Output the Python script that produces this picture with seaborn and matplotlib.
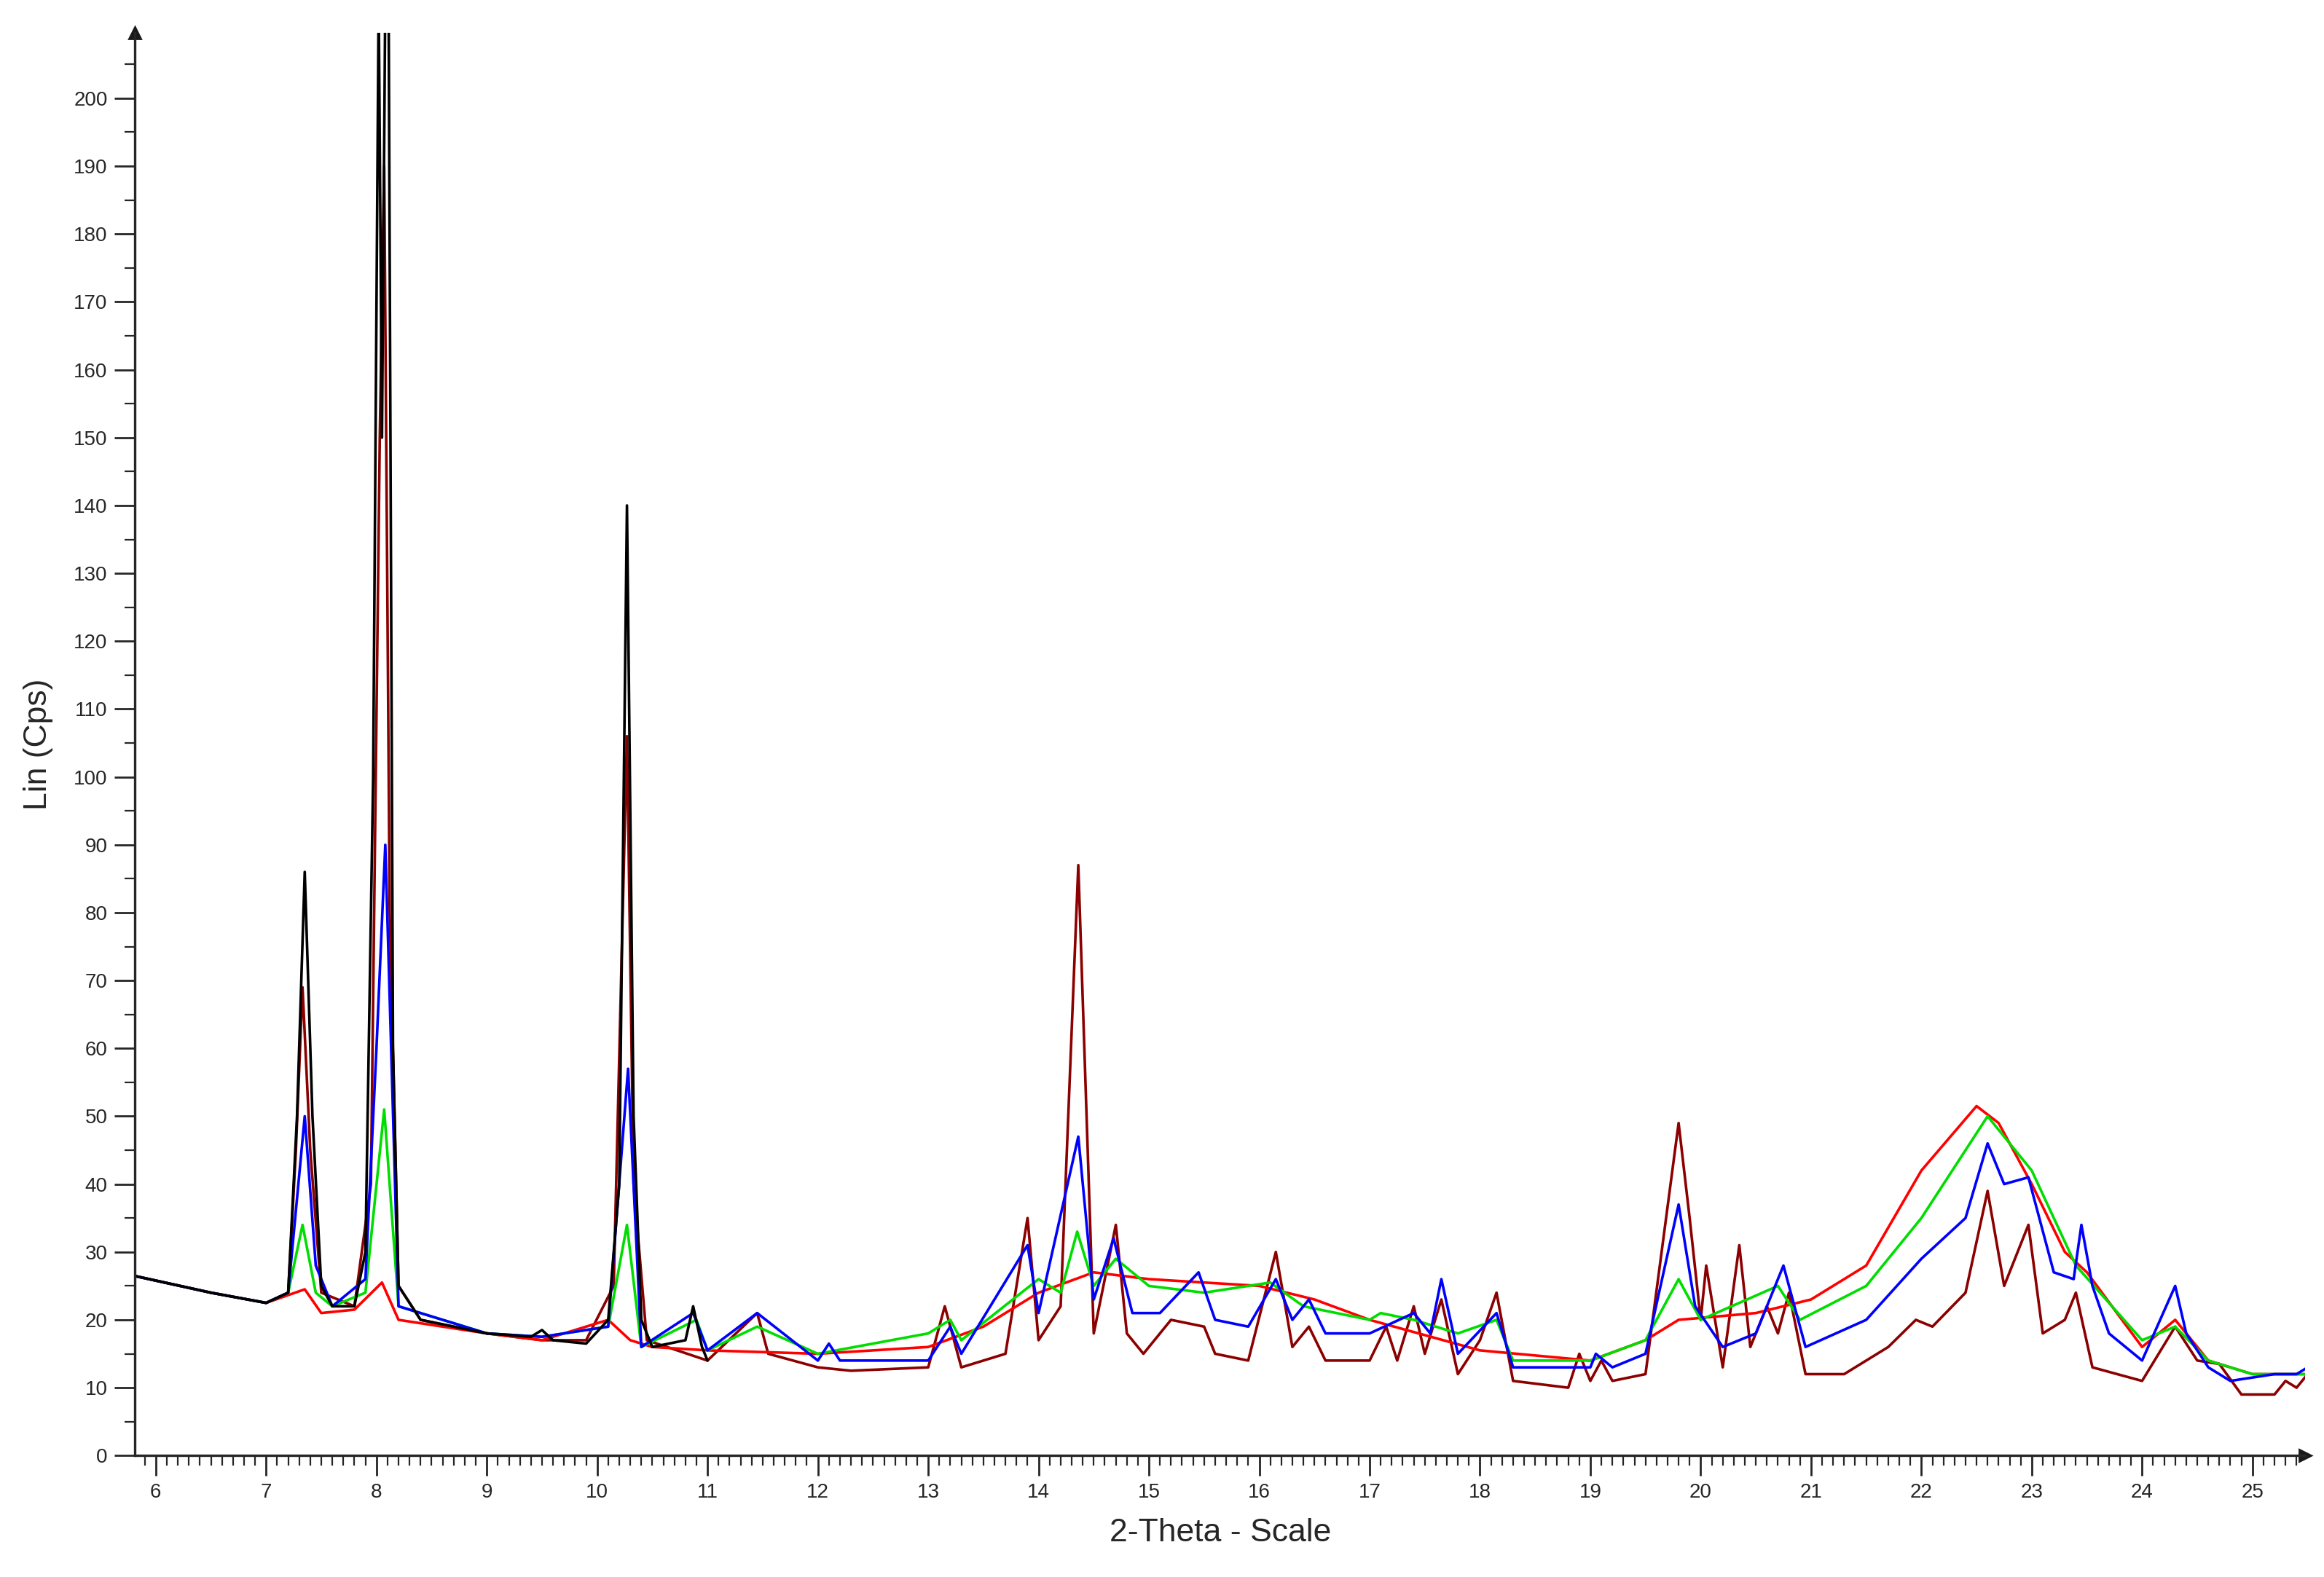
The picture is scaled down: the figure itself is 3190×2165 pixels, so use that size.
import matplotlib
matplotlib.use("Agg")
import matplotlib.pyplot as plt
import numpy as np
import pandas as pd
import seaborn as sns

# 2-theta / intensity vertices
black_x = [5.8, 6.5, 7.0, 7.2, 7.28, 7.35, 7.42, 7.5, 7.6, 7.8, 7.9, 7.97, 8.02, 8.05, 8.08, 8.11, 8.15, 8.2, 8.4, 9.0, 9.4, 9.5, 9.6, 9.9, 10.1, 10.2, 10.27, 10.33, 10.4, 10.5, 10.8, 10.87, 10.95, 11.0]
black_y = [26.5, 24, 22.5, 24, 50, 86, 50, 25, 22, 22, 30, 100, 215, 150, 215, 215, 60, 25, 20, 18, 17.5, 18.5, 17, 16.5, 20, 40, 140, 50, 20, 16, 17, 22, 16, 14]

darkred_x = [5.8, 6.5, 7.0, 7.2, 7.27, 7.33, 7.4, 7.5, 7.8, 7.95, 8.03, 8.07, 8.12, 8.2, 8.4, 9.0, 9.5, 9.9, 10.15, 10.27, 10.33, 10.45, 11.0, 11.45, 11.55, 12.0, 12.3, 13.0, 13.15, 13.3, 13.7, 13.9, 14.0, 14.2, 14.36, 14.5, 14.7, 14.8, 14.95, 15.2, 15.5, 15.6, 15.9, 16.15, 16.3, 16.45, 16.6, 17.0, 17.15, 17.25, 17.4, 17.5, 17.65, 17.8, 18.0, 18.15, 18.3, 18.8, 18.9, 19.0, 19.1, 19.2, 19.5, 19.8, 19.9, 20.0, 20.05, 20.2, 20.35, 20.45, 20.6, 20.7, 20.8, 20.95, 21.3, 21.7, 21.95, 22.1, 22.4, 22.6, 22.75, 22.97, 23.1, 23.3, 23.4, 23.55, 24.0, 24.3, 24.5, 24.7, 24.9, 25.2, 25.3, 25.4, 25.5]
darkred_y = [26.5, 24, 22.5, 24, 45, 69, 45, 24, 22, 40, 150, 190, 80, 25, 20, 18, 17, 17, 25, 106, 40, 17, 14, 21, 15, 13, 12.5, 13, 22, 13, 15, 35, 17, 22, 87, 18, 34, 18, 15, 20, 19, 15, 14, 30, 16, 19, 14, 14, 19, 14, 22, 15, 23, 12, 17, 24, 11, 10, 15, 11, 14, 11, 12, 49, 35, 20, 28, 13, 31, 16, 22, 18, 24, 12, 12, 16, 20, 19, 24, 39, 25, 34, 18, 20, 24, 13, 11, 19, 14, 13.5, 9, 9, 11, 10, 12]

red_x = [5.8, 6.5, 7.0, 7.35, 7.5, 7.8, 8.05, 8.2, 9.0, 9.5, 10.1, 10.3, 10.5, 11.0, 12.0, 13.0, 13.5, 14.0, 14.5, 15.0, 16.0, 16.5, 17.0, 18.0, 19.0, 19.5, 19.8, 20.5, 21.0, 21.5, 22.0, 22.5, 22.7, 23.0, 23.3, 23.5, 24.0, 24.3, 24.6, 25.0, 25.5]
red_y = [26.5, 24, 22.5, 24.5, 21, 21.5, 25.5, 20, 18, 17, 20, 17, 16, 15.5, 15, 16, 19, 24, 27, 26, 25, 23, 20, 15.5, 14, 17, 20, 21, 23, 28, 42, 51.5, 49, 40, 30, 27, 16, 20, 14, 12, 12]

green_x = [5.8, 6.5, 7.0, 7.2, 7.33, 7.45, 7.6, 7.9, 8.07, 8.2, 9.0, 9.5, 10.1, 10.27, 10.4, 10.9, 11.0, 11.45, 12.0, 13.0, 13.2, 13.3, 14.0, 14.2, 14.35, 14.5, 14.7, 15.0, 15.5, 16.1, 16.4, 17.0, 17.1, 17.4, 17.8, 18.15, 18.3, 19.0, 19.5, 19.8, 20.0, 20.7, 20.9, 21.5, 22.0, 22.6, 23.0, 23.4, 24.0, 24.3, 24.6, 25.0, 25.5]
green_y = [26.5, 24, 22.5, 24, 34, 24, 22, 24, 51, 22, 18, 17.5, 19, 34, 16, 20, 15.5, 19, 15, 18, 20, 17, 26, 24, 33, 25, 29, 25, 24, 25.5, 22, 20, 21, 20, 18, 20, 14, 14, 17, 26, 20, 25, 20, 25, 35, 50, 42, 28, 17, 19, 14, 12, 12]

blue_x = [5.8, 6.5, 7.0, 7.2, 7.35, 7.45, 7.6, 7.9, 8.0, 8.08, 8.2, 9.0, 9.5, 10.1, 10.28, 10.4, 10.87, 11.0, 11.45, 12.0, 12.1, 12.2, 13.0, 13.2, 13.3, 13.9, 14.0, 14.36, 14.5, 14.68, 14.85, 15.1, 15.45, 15.6, 15.9, 16.15, 16.3, 16.45, 16.6, 17.0, 17.4, 17.55, 17.65, 17.8, 18.15, 18.3, 19.0, 19.05, 19.2, 19.5, 19.8, 19.95, 20.2, 20.5, 20.75, 20.95, 21.5, 22.0, 22.4, 22.6, 22.75, 22.97, 23.2, 23.38, 23.45, 23.55, 23.7, 24.0, 24.3, 24.4, 24.6, 24.8, 25.2, 25.4, 25.5]
blue_y = [26.5, 24, 22.5, 24, 50, 28, 22, 26, 60, 90, 22, 18, 17.5, 19, 57, 16, 21, 15.5, 21, 14, 16.5, 14, 14, 19, 15, 31, 21, 47, 23, 32, 21, 21, 27, 20, 19, 26, 20, 23, 18, 18, 21, 18, 26, 15, 21, 13, 13, 15, 13, 15, 37, 22, 16, 18, 28, 16, 20, 29, 35, 46, 40, 41, 27, 26, 34, 25, 18, 14, 25, 18, 13, 11, 12, 12, 13]

series = [("darkred", darkred_x, darkred_y), ("#ff0000", red_x, red_y),
          ("#00dd00", green_x, green_y), ("#0000ff", blue_x, blue_y),
          ("black", black_x, black_y)]

sns.set_theme(style="ticks")
plt.rcParams['font.family'] = ['Arial', 'Liberation Sans', 'DejaVu Sans']

fig = plt.figure(figsize=(15.95, 10.825), dpi=200)
ax = fig.add_axes([0.058, 0.077, 0.934, 0.902])

for color, xs, ys in series:
    df = pd.DataFrame({"x": xs, "y": ys})
    sns.lineplot(data=df, x="x", y="y", color=color, lw=1.3, ax=ax, sort=False)

ax.set_xlim(5.81, 25.48)
ax.set_ylim(0, 209.6)
ax.set_xticks(np.arange(6, 26, 1))
ax.set_xticks(np.arange(5.9, 25.5, 0.1), minor=True)
ax.set_yticks(np.arange(0, 201, 10))
ax.set_yticks(np.arange(5, 210, 5), minor=True)
ax.tick_params(axis="both", which="major", length=10, width=1, labelsize=10, direction="out")
ax.tick_params(axis="both", which="minor", length=5, width=0.8, direction="out")
for s in ["top", "right"]:
    ax.spines[s].set_visible(False)
for s in ["left", "bottom"]:
    ax.spines[s].set_linewidth(1.2)
ax.plot(1, 0, ">k", transform=ax.transAxes, clip_on=False, ms=6)
ax.plot(0, 1, "^k", transform=ax.transAxes, clip_on=False, ms=6)

ax.set_xlabel("2-Theta - Scale", fontsize=16, labelpad=8)
ax.set_ylabel("Lin (Cps)", fontsize=16, labelpad=10)

fig.savefig("out.png", dpi=200)
